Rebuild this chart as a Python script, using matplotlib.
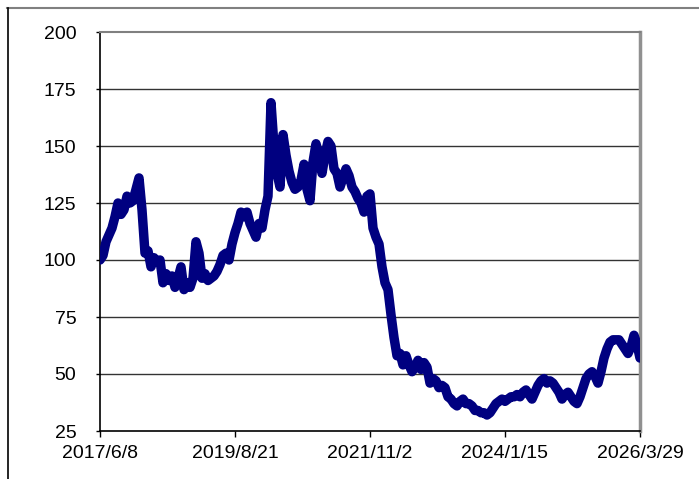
import numpy as np
import pandas as pd
import matplotlib
matplotlib.use("Agg")
import matplotlib.pyplot as plt
from matplotlib.lines import Line2D

plt.rcParams['font.family'] = ['Liberation Sans', 'DejaVu Sans']

# series, evenly spaced between first and last date
start_date = "2017-06-08"
end_date = "2026-03-29"
values = [
    100, 102, 108, 111, 114, 119, 125, 120, 122, 128,
    125, 126, 131, 136, 122, 103, 104, 97, 101, 99,
    100, 90, 94, 91, 93, 88, 92, 97, 87, 90,
    88, 92, 108, 103, 92, 94, 91, 92, 93, 95,
    98, 102, 103, 100, 107, 112, 116, 121, 119, 121,
    116, 113, 110, 116, 114, 122, 128, 169, 150, 138,
    132, 155, 146, 139, 134, 131, 132, 135, 142, 131,
    126, 143, 151, 146, 138, 146, 152, 150, 140, 138,
    132, 136, 140, 137, 132, 130, 127, 125, 121, 128,
    129, 114, 110, 107, 97, 90, 87, 76, 66, 58,
    59, 54, 58, 54, 51, 53, 56, 52, 55, 53,
    46, 48, 47, 44, 45, 44, 40, 39, 37, 36,
    38, 39, 37, 37, 36, 34, 34, 33, 33, 32,
    33, 35, 37, 38, 39, 38, 39, 40, 40, 41,
    40, 42, 43, 41, 39, 42, 45, 47, 48, 46,
    47, 46, 44, 42, 39, 41, 42, 40, 38, 37,
    40, 44, 48, 50, 51, 49, 46, 51, 57, 61,
    64, 65, 65, 65, 63, 61, 59, 62, 67, 63,
    57,
]
tick_labels = ["2017/6/8", "2019/8/21", "2021/11/2", "2024/1/15", "2026/3/29"]
y_ticks = [25, 50, 75, 100, 125, 150, 175, 200]

dates = pd.date_range(start_date, end_date, periods=len(values))
tick_dates = pd.date_range(start_date, end_date, periods=len(tick_labels))

W, H = 699, 479
fig = plt.figure(figsize=(W / 100, H / 100), dpi=100)
ax = fig.add_axes([100 / W, (H - 431) / H, 540 / W, 399 / H])

# outer chart frame (only top and left edges are visible)
fig.add_artist(Line2D([7 / W, 1], [1 - 7.5 / H, 1 - 7.5 / H], color="#808080", lw=1.5))
fig.add_artist(Line2D([7.5 / W, 7.5 / W], [0, 1 - 7.5 / H], color="black", lw=1.2))

ax.plot(dates, values, color="#000080", lw=6.8, solid_joinstyle="round",
        solid_capstyle="round", zorder=3)

ax.set_ylim(25, 200)
ax.set_yticks(y_ticks)
ax.set_xlim(dates[0], dates[-1])
ax.set_xticks(tick_dates)
ax.set_xticklabels(tick_labels)

for y in y_ticks[1:-1]:
    ax.axhline(y, color="#333333", lw=1.0, zorder=1)

ax.spines["left"].set_color("black")
ax.spines["bottom"].set_color("black")
ax.spines["left"].set_linewidth(1.2)
ax.spines["bottom"].set_linewidth(1.2)
ax.spines["top"].set_color("#808080")
ax.spines["top"].set_linewidth(1.5)
ax.spines["right"].set_color("#909090")
ax.spines["right"].set_linewidth(2.5)

ax.tick_params(axis="y", length=3, width=1, pad=14, labelsize=14)
ax.tick_params(axis="x", length=4, width=1, pad=6, labelsize=14)

fig.savefig("out.png", dpi=100)
